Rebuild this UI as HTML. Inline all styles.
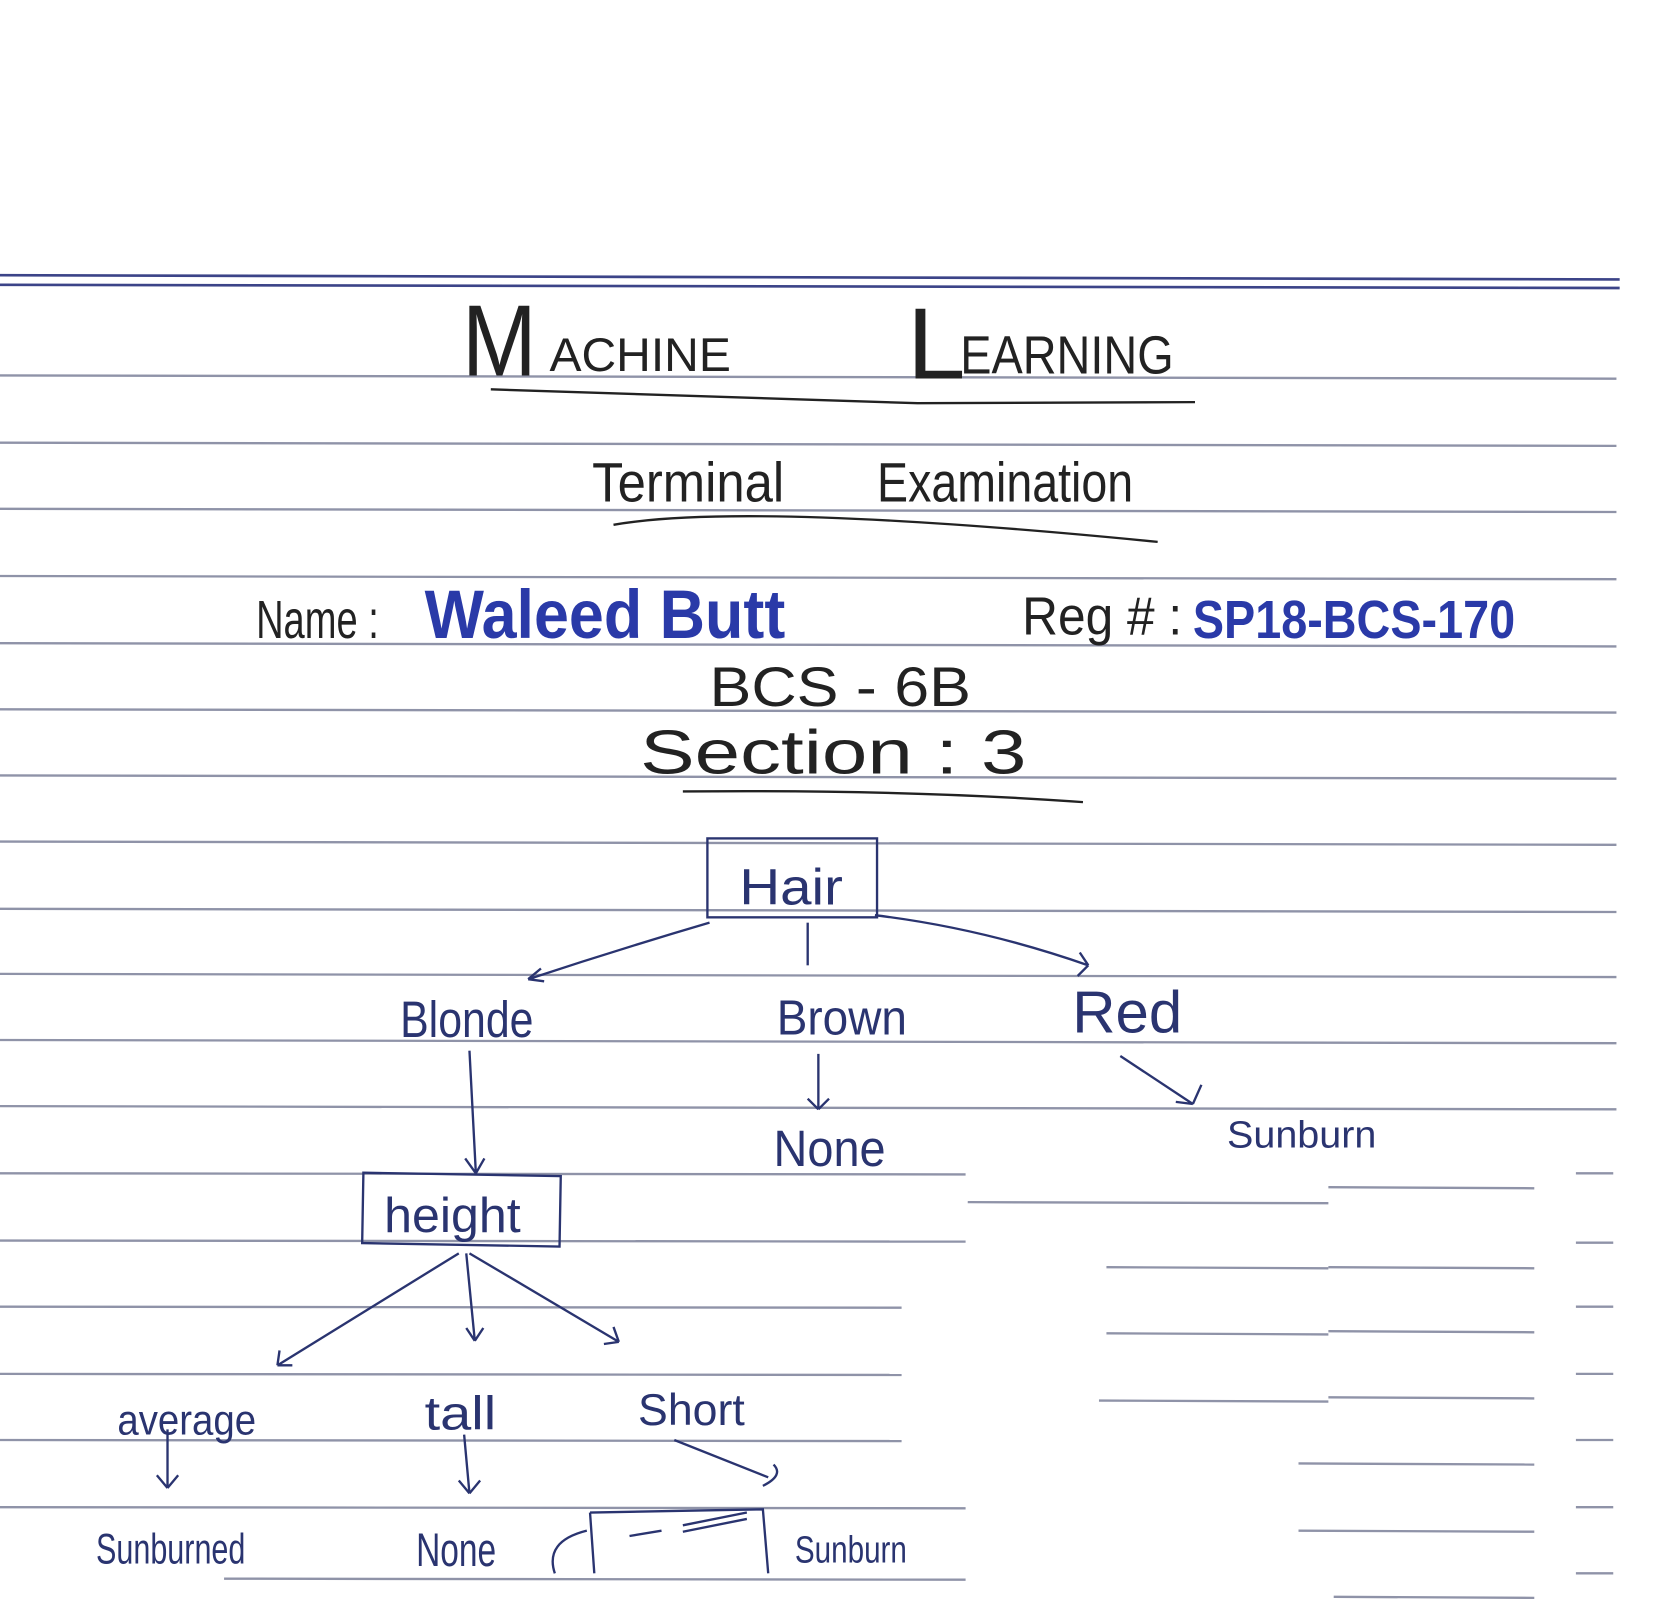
<!DOCTYPE html>
<html><head><meta charset="utf-8"><style>
html,body{margin:0;padding:0;background:#fff;}
svg{display:block}
</style></head><body>
<svg width="1673" height="1616" viewBox="0 0 1568 1515" preserveAspectRatio="none" xmlns="http://www.w3.org/2000/svg">
<rect width="1568" height="1515" fill="#fff"/>
<g stroke="#8f93a8" stroke-width="2.2" fill="none">
<line x1="0" y1="258" x2="1518" y2="262" stroke="#3c4488" stroke-width="2.5"/>
<line x1="0" y1="267" x2="1518" y2="270" stroke="#3c4488" stroke-width="2.5"/>
<line x1="0" y1="352" x2="1515" y2="355"/>
<line x1="0" y1="415" x2="1515" y2="418"/>
<line x1="0" y1="477" x2="1515" y2="480"/>
<line x1="0" y1="540" x2="1515" y2="543"/>
<line x1="0" y1="603" x2="1515" y2="606"/>
<line x1="0" y1="665" x2="1515" y2="668"/>
<line x1="0" y1="727" x2="1515" y2="730"/>
<line x1="0" y1="789" x2="1515" y2="792"/>
<line x1="0" y1="852" x2="1515" y2="855"/>
<line x1="0" y1="913" x2="1515" y2="916"/>
<line x1="0" y1="975" x2="1515" y2="978"/>
<line x1="0" y1="1037" x2="1515" y2="1040"/>
<line x1="0" y1="1100" x2="905" y2="1101"/>
<line x1="0" y1="1163" x2="905" y2="1164"/>
<line x1="0" y1="1225" x2="845" y2="1226"/>
<line x1="0" y1="1288" x2="845" y2="1289"/>
<line x1="0" y1="1350" x2="845" y2="1351"/>
<line x1="0" y1="1413" x2="905" y2="1414"/>
<line x1="210" y1="1480" x2="905" y2="1481"/>
<line x1="907" y1="1127" x2="1245" y2="1128"/>
<line x1="1245" y1="1113" x2="1438" y2="1114"/>
<line x1="1245" y1="1188" x2="1438" y2="1189"/>
<line x1="1037" y1="1188" x2="1245" y2="1189"/>
<line x1="1245" y1="1248" x2="1438" y2="1249"/>
<line x1="1037" y1="1250" x2="1245" y2="1251"/>
<line x1="1245" y1="1310" x2="1438" y2="1311"/>
<line x1="1030" y1="1313" x2="1245" y2="1314"/>
<line x1="1217" y1="1372" x2="1438" y2="1373"/>
<line x1="1217" y1="1435" x2="1438" y2="1436"/>
<line x1="1250" y1="1497" x2="1438" y2="1498"/>
<line x1="1477" y1="1100" x2="1512" y2="1100"/>
<line x1="1477" y1="1165" x2="1512" y2="1165"/>
<line x1="1477" y1="1225" x2="1512" y2="1225"/>
<line x1="1477" y1="1288" x2="1512" y2="1288"/>
<line x1="1477" y1="1350" x2="1512" y2="1350"/>
<line x1="1477" y1="1413" x2="1512" y2="1413"/>
<line x1="1477" y1="1475" x2="1512" y2="1475"/>
</g>
<g font-family="Liberation Sans, sans-serif" fill="#222">
<text x="433" y="352" font-size="95" textLength="70" lengthAdjust="spacingAndGlyphs">M</text>
<text x="515" y="348" font-size="44" textLength="170" lengthAdjust="spacingAndGlyphs">ACHINE</text>
<text x="850" y="355" font-size="95" textLength="55" lengthAdjust="spacingAndGlyphs">L</text>
<text x="900" y="350" font-size="50" textLength="200" lengthAdjust="spacingAndGlyphs">EARNING</text>
<text x="555" y="470" font-size="52" textLength="180" lengthAdjust="spacingAndGlyphs">Terminal</text>
<text x="822" y="470" font-size="52" textLength="240" lengthAdjust="spacingAndGlyphs">Examination</text>
<text x="240" y="598" font-size="50" textLength="115" lengthAdjust="spacingAndGlyphs">Name :</text>
<text x="958" y="595" font-size="50" textLength="150" lengthAdjust="spacingAndGlyphs">Reg # :</text>
<text x="665" y="662" font-size="52" textLength="245" lengthAdjust="spacingAndGlyphs">BCS - 6B</text>
<text x="600" y="725" font-size="58" textLength="362" lengthAdjust="spacingAndGlyphs">Section : 3</text>
</g>
<g font-family="Liberation Sans, sans-serif" font-weight="bold" fill="#2a3aa8">
<text x="398" y="598" font-size="64" textLength="338" lengthAdjust="spacingAndGlyphs">Waleed Butt</text>
<text x="1118" y="598" font-size="50" textLength="302" lengthAdjust="spacingAndGlyphs">SP18-BCS-170</text>
</g>
<g stroke="#222" stroke-width="2.2" fill="none">
<path d="M460 365 Q700 372 860 378 L1120 377"/>
<path d="M575 492 Q700 470 1085 508"/>
<path d="M640 742 Q850 740 1015 752"/>
</g>
<g stroke="#2a3470" stroke-width="2.2" fill="none">
<rect x="663" y="786" width="159" height="74"/>
<rect x="340" y="1101" width="185" height="66" transform="rotate(1 432 1134)"/>
<path d="M665 865 Q580 890 495 918 M495 918 l12 -10 M495 918 l15 2"/>
<line x1="757" y1="865" x2="757" y2="905"/>
<path d="M820 858 Q920 870 1020 905 M1020 905 l-8 -12 M1020 905 l-10 10"/>
<path d="M440 985 L446 1100 M446 1100 l-10 -14 M446 1100 l8 -14"/>
<path d="M767 988 L767 1040 M767 1040 l-10 -10 M767 1040 l10 -10"/>
<path d="M1050 990 L1118 1035 M1118 1035 l8 -18 M1118 1035 l-16 -2"/>
<path d="M430 1175 L260 1280 M260 1280 l2 -14 M260 1280 l14 0"/>
<path d="M437 1175 L445 1257 M445 1257 l-8 -12 M445 1257 l8 -12"/>
<path d="M440 1175 L580 1258 M580 1258 l-5 -14 M580 1258 l-14 2"/>
<path d="M157 1340 L157 1395 M157 1395 l-10 -12 M157 1395 l10 -12"/>
<path d="M435 1345 L440 1400 M440 1400 l-10 -12 M440 1400 l10 -12"/>
<path d="M632 1350 L720 1385 M725 1373 q10 10 -10 20"/>
<path d="M553 1418 L715 1415 L720 1475 M553 1418 L557 1475 M520 1475 q-10 -30 30 -40 M590 1440 l30 -5 M640 1430 l60 -12 M640 1436 l60 -12"/>
</g>
<g font-family="Liberation Sans, sans-serif" fill="#2a3470">
<text x="693" y="848" font-size="48" textLength="97" lengthAdjust="spacingAndGlyphs">Hair</text>
<text x="360" y="1155" font-size="46" textLength="128" lengthAdjust="spacingAndGlyphs">height</text>
<text x="375" y="972" font-size="48" textLength="125" lengthAdjust="spacingAndGlyphs">Blonde</text>
<text x="728" y="970" font-size="46" textLength="122" lengthAdjust="spacingAndGlyphs">Brown</text>
<text x="1005" y="968" font-size="56" textLength="103" lengthAdjust="spacingAndGlyphs">Red</text>
<text x="725" y="1093" font-size="48" textLength="105" lengthAdjust="spacingAndGlyphs">None</text>
<text x="1150" y="1076" font-size="36" textLength="140" lengthAdjust="spacingAndGlyphs">Sunburn</text>
<text x="110" y="1345" font-size="40" textLength="130" lengthAdjust="spacingAndGlyphs">average</text>
<text x="398" y="1340" font-size="44" textLength="67" lengthAdjust="spacingAndGlyphs">tall</text>
<text x="598" y="1336" font-size="42" textLength="100" lengthAdjust="spacingAndGlyphs">Short</text>
<text x="90" y="1466" font-size="40" textLength="140" lengthAdjust="spacingAndGlyphs">Sunburned</text>
<text x="390" y="1468" font-size="44" textLength="75" lengthAdjust="spacingAndGlyphs">None</text>
<text x="745" y="1465" font-size="36" textLength="105" lengthAdjust="spacingAndGlyphs">Sunburn</text>
</g>
</svg>
</body></html>
